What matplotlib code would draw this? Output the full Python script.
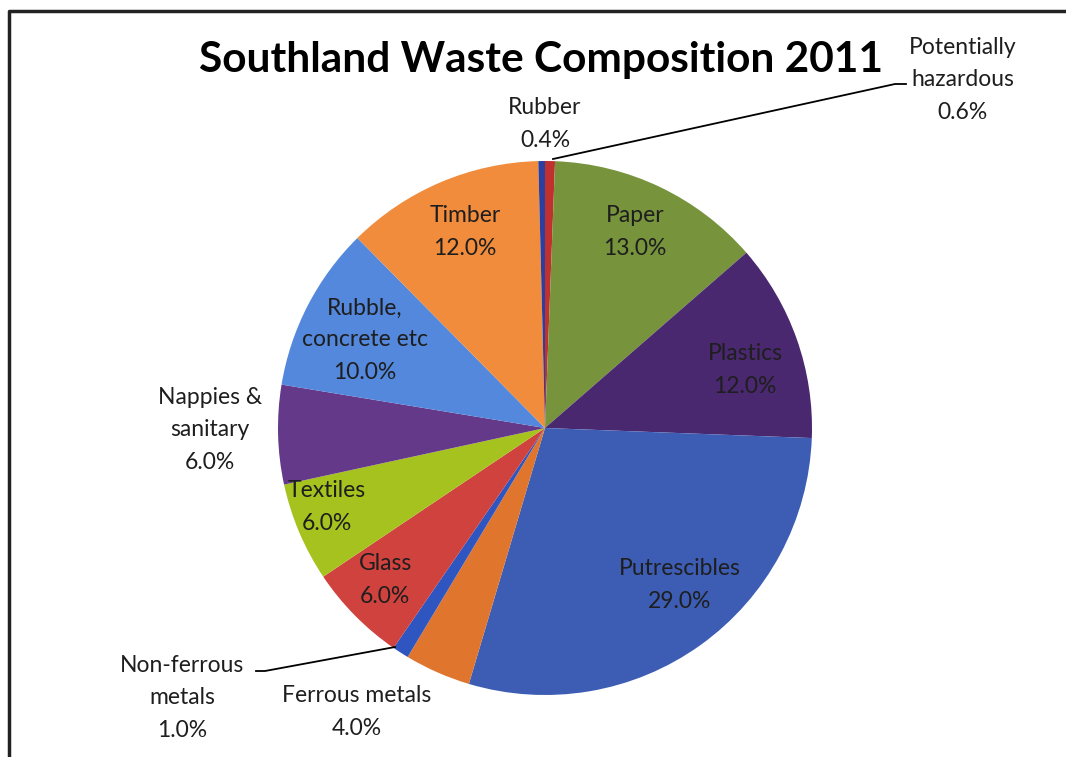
import matplotlib.pyplot as plt

# slice data, clockwise from 12 o'clock
labels = ["Potentially\nhazardous", "Paper", "Plastics", "Putrescibles",
          "Ferrous metals", "Non-ferrous\nmetals", "Glass", "Textiles",
          "Nappies &\nsanitary", "Rubble,\nconcrete etc", "Timber", "Rubber"]
values = [0.6, 13.0, 12.0, 29.0, 4.0, 1.0, 6.0, 6.0, 6.0, 10.0, 12.0, 0.4]
colors = ["#c0302f", "#77933c", "#4a2870", "#3d5db4", "#e0762e", "#2f55c0",
          "#d0423e", "#a6c21f", "#65398a", "#5388dc", "#f08c3c", "#2a3fa0"]

W, H = 1066, 757
fig = plt.figure(figsize=(W / 100, H / 100), dpi=100)
ax = fig.add_axes([0, 0, 1, 1])

font = "Lato"
cx, cy, r = 545, H - 428, 267
ax.pie(values, colors=colors, startangle=90, counterclock=False,
       center=(cx, cy), radius=r, frame=True,
       wedgeprops=dict(linewidth=0))
ax.set_xlim(0, W)
ax.set_ylim(0, H)
ax.set_aspect("equal")
ax.axis("off")

# label positions in pixel coords (x, y from top)
pos = {
    "Potentially\nhazardous": (963, 80),
    "Paper": (635, 232),
    "Plastics": (745, 370),
    "Putrescibles": (680, 585),
    "Ferrous metals": (357, 712),
    "Non-ferrous\nmetals": (182, 698),
    "Glass": (385, 580),
    "Textiles": (327, 507),
    "Nappies &\nsanitary": (210, 430),
    "Rubble,\nconcrete etc": (365, 340),
    "Timber": (465, 232),
    "Rubber": (545, 124),
}
for lab, v in zip(labels, values):
    x, y = pos[lab]
    ax.text(x, H - y, f"{lab}\n{v:.1f}%", ha="center", va="center",
            fontsize=16.5, family=font, color="#1e1e1e", linespacing=1.65)

# leader lines
ax.plot([553, 895, 906], [H - 159, H - 84, H - 84], color="black", lw=1.3)
ax.plot([395, 265, 256], [H - 647, H - 671, H - 671], color="black", lw=1.3)

ax.text(541, H - 60, "Southland Waste Composition 2011", ha="center",
        va="center", fontsize=30.5, fontweight="bold", family=font, color="black")

# frame
ax.plot([9, 9, W], [0, H - 11, H - 11], color="#222222", lw=2.5,
        solid_capstyle="butt")

fig.savefig("out.png", dpi=100)
